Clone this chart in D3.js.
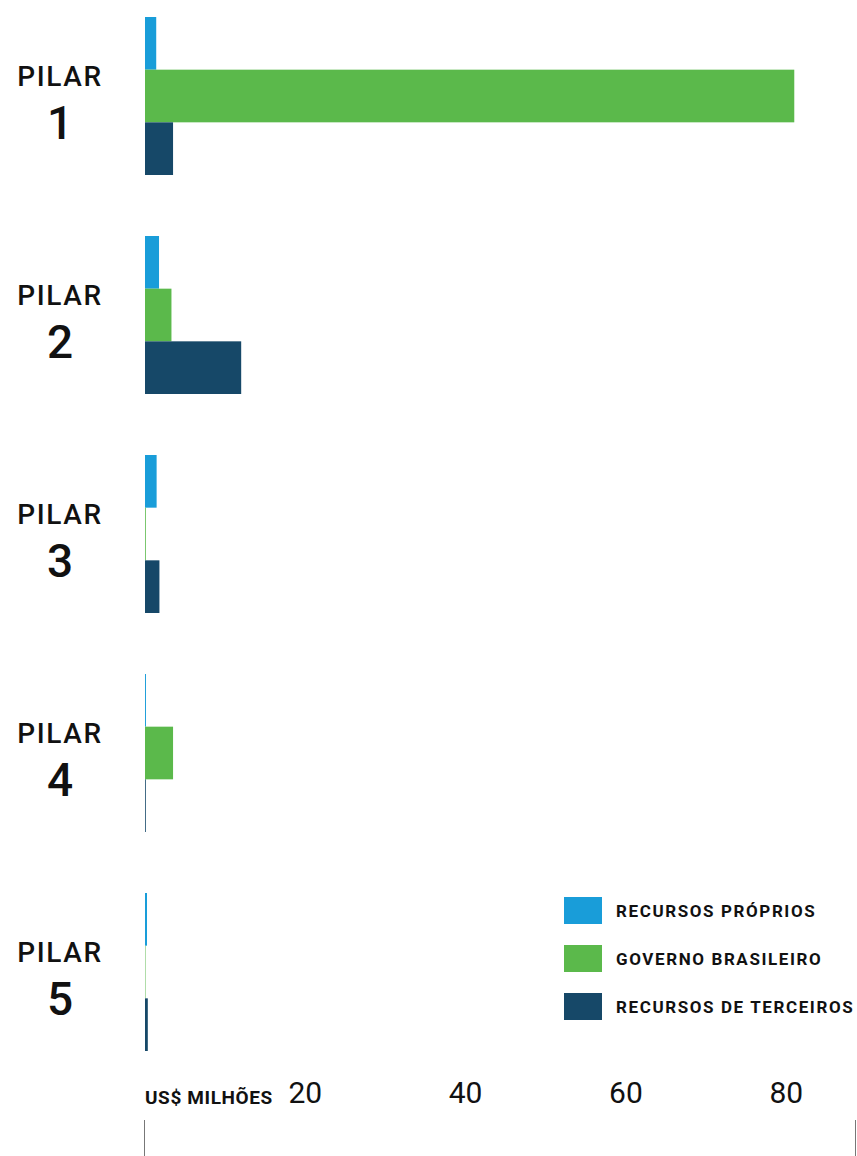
<!DOCTYPE html>
<html lang="pt">
<head>
<meta charset="UTF-8">
<title>Pilares</title>
<script src="https://cdnjs.cloudflare.com/ajax/libs/d3/7.8.5/d3.min.js"></script>
<style>
  body { margin: 0; background: #fff; }
  text { font-family: Roboto, "Noto Sans", sans-serif; fill: #111; }
</style>
</head>
<body>
<div id="chart"></div>
<script>
// dados (US$ milhões)
var pilares = ["1", "2", "3", "4", "5"];
var series = ["RECURSOS PRÓPRIOS", "GOVERNO BRASILEIRO", "RECURSOS DE TERCEIROS"];
var cores = ["#199dd9", "#5bb94b", "#164868"];
var recursosProprios = [1.4, 1.75, 1.45, 0.12, 0.25];
var governoBrasileiro = [81, 3.3, 0.1, 3.5, 0.06];
var recursosTerceiros = [3.5, 12, 1.8, 0.1, 0.35];
var ticks = [20, 40, 60, 80];
var xMax = 88.7;

var valores = [recursosProprios, governoBrasileiro, recursosTerceiros];

var width = 857, height = 1156;
var svg = d3.select("#chart").append("svg")
    .attr("width", width)
    .attr("height", height);

var x = d3.scaleLinear().domain([0, xMax]).range([145, 856]);

var y = d3.scaleBand().domain(pilares).range([17, 1051])
    .paddingInner(61 / 219).paddingOuter(0);
var ySub = d3.scaleBand().domain(series).range([0, y.bandwidth()]);
var cor = d3.scaleOrdinal().domain(series).range(cores);

var grupos = svg.selectAll("g.pilar")
    .data(pilares)
    .enter().append("g")
    .attr("class", "pilar")
    .attr("transform", d => "translate(0," + y(d) + ")");

grupos.selectAll("rect")
    .data((p, i) => series.map((s, j) => ({ serie: s, valor: valores[j][i] })))
    .enter().append("rect")
    .attr("x", x(0))
    .attr("y", d => ySub(d.serie))
    .attr("width", d => x(d.valor) - x(0))
    .attr("height", ySub.bandwidth())
    .attr("fill", d => cor(d.serie));

// rótulos dos pilares
grupos.append("text")
    .attr("x", 60)
    .attr("y", y.bandwidth() / 2 - 10)
    .attr("text-anchor", "middle")
    .style("font-size", "28px")
    .style("font-weight", 500)
    .style("letter-spacing", "1.6px")
    .text("PILAR");

grupos.append("text")
    .attr("x", 60)
    .attr("y", y.bandwidth() / 2 + 43)
    .attr("text-anchor", "middle")
    .style("font-size", "46px")
    .style("font-weight", 500)
    .text(d => d);

// eixo
svg.selectAll("text.tick")
    .data(ticks)
    .enter().append("text")
    .attr("class", "tick")
    .attr("x", d => x(d))
    .attr("y", 1103)
    .attr("text-anchor", "middle")
    .style("font-size", "30px")
    .text(d => d);

svg.append("text")
    .attr("x", 145)
    .attr("y", 1104)
    .style("font-size", "19px")
    .style("font-weight", 700)
    .style("letter-spacing", "0.6px")
    .text("US$ MILHÕES");

svg.selectAll("line.borda")
    .data([0, xMax])
    .enter().append("line")
    .attr("class", "borda")
    .attr("x1", d => Math.round(x(d)) - 0.5)
    .attr("x2", d => Math.round(x(d)) - 0.5)
    .attr("y1", 1120)
    .attr("y2", height)
    .attr("stroke", "#777")
    .attr("stroke-width", 1);

// legenda
var legenda = svg.selectAll("g.legenda")
    .data(series)
    .enter().append("g")
    .attr("class", "legenda")
    .attr("transform", (d, i) => "translate(564," + (897 + i * 48) + ")");

legenda.append("rect")
    .attr("width", 38)
    .attr("height", 27)
    .attr("fill", d => cor(d));

legenda.append("text")
    .attr("x", 52)
    .attr("y", 20)
    .style("font-size", "17px")
    .style("font-weight", 700)
    .style("letter-spacing", "1.6px")
    .text(d => d);
</script>
</body>
</html>
